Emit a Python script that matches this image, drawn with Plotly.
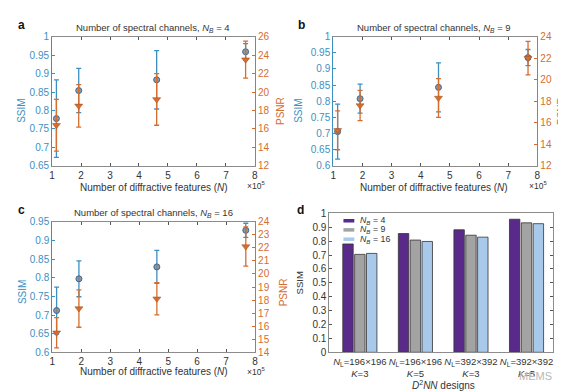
import plotly.graph_objects as go

# ---------------- data ----------------
n_features = [1.15, 1.92, 4.61, 7.68]  # x 10^5

ssim_a = [0.778, 0.854, 0.883, 0.959]
ssim_a_err = [0.105, 0.060, 0.079, 0.022]
psnr_a = [16.4, 18.5, 19.2, 23.5]
psnr_a_err = [2.8, 2.3, 2.8, 2.0]

ssim_b = [0.706, 0.808, 0.843, 0.935]
ssim_b_err = [0.085, 0.045, 0.076, 0.025]
psnr_b = [15.3, 17.6, 18.3, 22.0]
psnr_b_err = [1.8, 1.4, 1.8, 1.56]

ssim_c = [0.712, 0.797, 0.829, 0.927]
ssim_c_err = [0.063, 0.048, 0.044, 0.019]
psnr_c = [15.5, 17.35, 18.1, 22.1]
psnr_c_err = [1.16, 1.43, 1.24, 1.5]

designs = ["<i>N</i><sub>L</sub>=196×196<br><i>K</i>=3",
           "<i>N</i><sub>L</sub>=196×196<br><i>K</i>=5",
           "<i>N</i><sub>L</sub>=392×392<br><i>K</i>=3",
           "<i>N</i><sub>L</sub>=392×392<br><i>K</i>=5"]
bar_nb4 = [0.780, 0.855, 0.882, 0.958]
bar_nb9 = [0.705, 0.808, 0.843, 0.932]
bar_nb16 = [0.712, 0.798, 0.829, 0.926]
legend_names = ["<i>N</i><sub><i>B</i></sub> = 4",
                "<i>N</i><sub><i>B</i></sub> = 9",
                "<i>N</i><sub><i>B</i></sub> = 16"]
nb_values = [4, 9, 16]

# ---------------- style ----------------
W, H = 566, 392
FONT = "Liberation Sans, Arial, sans-serif"
BLUE = "#3d8fc2"
ORANGE = "#d56d2e"
TXT = "#333333"

def dx(px):
    return px / W

def dy(py):
    return 1 - py / H

fig = go.Figure()

panels = [
    (ssim_a, ssim_a_err, psnr_a, psnr_a_err, "x", "y", "y2", [0.65, 1.0], 0.05, [12, 26], 2, (41.5, 246.5), (23.3, 156.7)),
    (ssim_b, ssim_b_err, psnr_b, psnr_b_err, "x2", "y3", "y4", [0.6, 1.0], 0.05, [12, 24], 2, (325.7, 532.0), (23.3, 156.7)),
    (ssim_c, ssim_c_err, psnr_c, psnr_c_err, "x3", "y5", "y6", [0.6, 0.95], 0.05, [14, 24], 1, (41.7, 246.7), (214.3, 349.0)),
]

layout_axes = {}
for (ss, sse, ps, pse, xa, yl, yr, sr, sd, pr, pd, xd, yd) in panels:
    fig.add_trace(go.Scatter(
        x=n_features, y=ss, mode="markers", xaxis=xa, yaxis=yl, showlegend=False,
        error_y=dict(type="data", array=sse, color=BLUE, thickness=1.3, width=2.5),
        marker=dict(symbol="circle", size=6, color="rgba(130,130,140,0.85)",
                    line=dict(color="#3a6a90", width=1))))
    fig.add_trace(go.Scatter(
        x=n_features, y=ps, mode="markers", xaxis=xa, yaxis=yr, showlegend=False,
        error_y=dict(type="data", array=pse, color=ORANGE, thickness=1.3, width=2.5),
        marker=dict(symbol="triangle-down", size=7, color=ORANGE,
                    line=dict(color="#a04a1a", width=0.5))))
    xkey = "xaxis" + xa[1:]
    ylkey = "yaxis" + yl[1:]
    yrkey = "yaxis" + yr[1:]
    layout_axes[xkey] = dict(
        domain=[dx(xd[0]), dx(xd[1])], anchor=yl, range=[1, 8], dtick=1, tick0=1,
        showgrid=False, zeroline=False, showline=True, linecolor="#8c8c8c", linewidth=1,
        mirror="ticks", ticks="inside", ticklen=3, tickcolor="#555",
        tickfont=dict(family=FONT, size=10, color=TXT))
    layout_axes[ylkey] = dict(
        domain=[dy(yd[1]), dy(yd[0])], anchor=xa, range=sr, dtick=sd, tick0=0,
        showgrid=False, zeroline=False, showline=True, linecolor=BLUE, linewidth=1,
        ticks="inside", ticklen=3, tickcolor=BLUE, tickformat="~g",
        tickfont=dict(family=FONT, size=10, color=BLUE))
    layout_axes[yrkey] = dict(
        overlaying=yl, side="right", anchor=xa, range=pr, dtick=pd, tick0=0,
        showgrid=False, zeroline=False, showline=True, linecolor=ORANGE, linewidth=1,
        ticks="inside", ticklen=3, tickcolor=ORANGE,
        tickfont=dict(family=FONT, size=10, color=ORANGE))

# ---------------- panel d: bars ----------------
bar_colors = ["#5a2a8a", "#a3a3a3", "#a9c9ea"]
for vals, name, col in zip([bar_nb4, bar_nb9, bar_nb16], legend_names, bar_colors):
    fig.add_trace(go.Bar(
        x=designs, y=vals, name=name, xaxis="x4", yaxis="y7", showlegend=False,
        marker=dict(color=col, line=dict(color="#333333", width=0.8))))

layout_axes["xaxis4"] = dict(
    domain=[dx(321.7), dx(548)], anchor="y7", range=[-0.55, 3.48],
    showgrid=False, zeroline=False, showline=True, linecolor="#8c8c8c", linewidth=1,
    mirror=True, ticks="", tickfont=dict(family=FONT, size=9.5, color=TXT))
layout_axes["yaxis7"] = dict(
    domain=[dy(349), dy(205.7)], anchor="x4", range=[0, 1], dtick=0.1, tick0=0,
    showgrid=False, zeroline=False, showline=True, linecolor="#8c8c8c", linewidth=1,
    mirror="ticks", ticks="inside", ticklen=3, tickcolor="#555", tickformat="~g",
    tickfont=dict(family=FONT, size=10, color=TXT))

# ---------------- annotations ----------------
ann = []
shapes = []

def text(x, y, s, size=10, color=TXT, angle=0, xanchor="center"):
    ann.append(dict(x=dx(x), y=dy(y), xref="paper", yref="paper", text=s,
                    showarrow=False, textangle=angle, xanchor=xanchor, yanchor="middle",
                    font=dict(family=FONT, size=size, color=color)))

title_txt = "Number of spectral channels, <i>N</i><sub><i>B</i></sub> = {}"
xlab = "Number of diffractive features (<i>N</i>)"

# panel a
text(11, 11, "<b>a</b>", size=12, color="#111")
text(144, 14, title_txt.format(nb_values[0]), size=9.5)
text(11, 100, "SSIM", color=BLUE, angle=-90)
text(273, 100, "PSNR", color=ORANGE, angle=-90)
text(145, 179, xlab, size=10)
text(248, 177, "×10<sup>5</sup>", size=8.5)
# panel b
text(294, 11, "<b>b</b>", size=12, color="#111")
text(428, 14, title_txt.format(nb_values[1]), size=9.5)
text(291, 100, "SSIM", color=BLUE, angle=-90)
text(557, 100, "PSNR", color=ORANGE, angle=-90)
text(428, 179, xlab, size=10)
text(533, 177, "×10<sup>5</sup>", size=8.5)
# panel c
text(11, 202, "<b>c</b>", size=12, color="#111")
text(144, 205, title_txt.format(nb_values[2]), size=9.5)
text(11, 287, "SSIM", color=BLUE, angle=-90)
text(275, 287, "PSNR", color=ORANGE, angle=-90)
text(145, 369, xlab, size=10)
text(248, 369, "×10<sup>5</sup>", size=8.5)
# panel d
text(293, 202, "<b>d</b>", size=12, color="#111")
text(292, 277, "SSIM", color=TXT, angle=-90, size=9.5)
text(437, 383, "<i>D</i><sup>2</sup><i>NN</i> designs", size=10)
text(530, 373, "MEMS", size=11, color="#b8b8b8")

# custom legend for panel d
leg_rows = [213.3, 222.7, 232.3]
for name, col, ry in zip(legend_names, bar_colors, leg_rows):
    shapes.append(dict(type="rect", xref="paper", yref="paper",
                       x0=dx(336), x1=dx(347), y0=dy(ry + 1.8), y1=dy(ry - 1.8),
                       fillcolor=col, line=dict(width=0)))
    text(350.5, ry, name, size=8.8, xanchor="left")

fig.update_layout(
    width=W, height=H, margin=dict(l=0, r=0, t=0, b=0),
    paper_bgcolor="white", plot_bgcolor="white",
    font=dict(family=FONT, size=10, color=TXT),
    barmode="group", bargap=0.36, bargroupgap=0.12,
    showlegend=False,
    annotations=ann, shapes=shapes,
    **layout_axes)

fig.write_html("out.html")
